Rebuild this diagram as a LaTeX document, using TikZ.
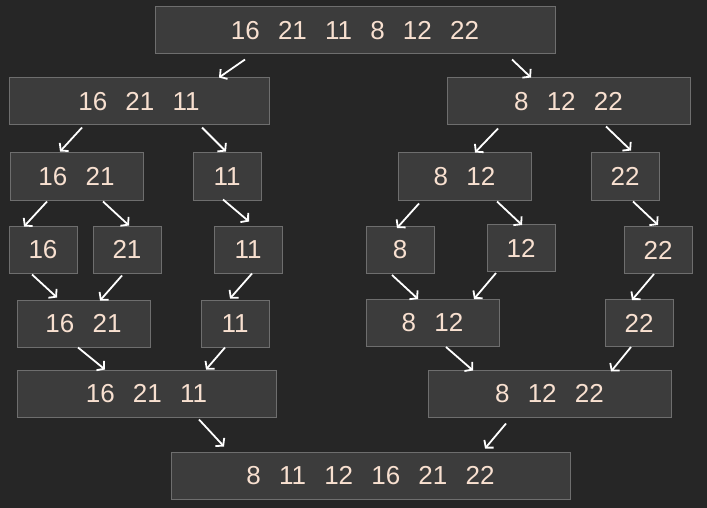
\documentclass[tikz,border=0pt]{standalone}
\usepackage{fontspec}
\setmainfont{Liberation Sans}
\usepackage{tikz}
\usetikzlibrary{arrows.meta}

\definecolor{bgcol}{RGB}{38,38,38}
\definecolor{boxfill}{RGB}{60,60,60}
\definecolor{boxline}{RGB}{110,110,110}
\definecolor{numtext}{RGB}{248,224,208}
\newcommand{\numfont}{\fontsize{26}{30}\selectfont}
\newcommand{\gp}{\hspace{0.7em}}

\begin{document}
\begin{tikzpicture}[->,>={Straight Barb[length=5pt,width=12pt]},x=1pt,y=-1pt]
\tikzstyle{numbox} = [rectangle, draw=boxline, line width=1pt, fill=boxfill, text=numtext, font=\numfont, minimum height=47pt, inner sep=0pt]
\tikzstyle{every edge} = [draw=white, line width=1.8pt]
\useasboundingbox (0,0) rectangle (707,508);
\fill[bgcol,-] (0,0) rectangle (707,508);
% split
\node[numbox, minimum width=400pt] (all) at (355,30.5) {16\gp 21\gp 11\gp 8\gp 12\gp 22};
\node[numbox, minimum width=260pt] (left) at (139,101.5) {16\gp 21\gp 11};
\node[numbox, minimum width=243pt] (right) at (568.5,101.5) {8\gp 12\gp 22};
\node[numbox, minimum width=133pt] (leftA) at (76.5,176.5) {16\gp 21};
\node[numbox, minimum width=68pt] (leftB) at (227,176.5) {11};
\node[numbox, minimum width=133pt] (rightA) at (464.5,176.5) {8\gp 12};
\node[numbox, minimum width=68pt] (rightB) at (625,176.5) {22};
\node[numbox, minimum width=68pt] (p16) at (43,249.5) {16};
\node[numbox, minimum width=68pt] (p21) at (127,249.5) {21};
\node[numbox, minimum width=68pt] (p11) at (248,249.5) {11};
\node[numbox, minimum width=68pt] (p8) at (400,250) {8};
\node[numbox, minimum width=68pt] (p12) at (521,248) {12};
\node[numbox, minimum width=68pt] (p22) at (658,250) {22};
% merge
\node[numbox, minimum width=133pt] (m1621) at (83.5,323.5) {16\gp 21};
\node[numbox, minimum width=68pt] (m11) at (235,323.5) {11};
\node[numbox, minimum width=133pt] (m812) at (432.5,323) {8\gp 12};
\node[numbox, minimum width=68pt] (m22) at (639,323) {22};
\node[numbox, minimum width=259pt] (mleft) at (146.5,393.5) {16\gp 21\gp 11};
\node[numbox, minimum width=243pt] (mright) at (549.5,393.5) {8\gp 12\gp 22};
\node[numbox, minimum width=399pt] (sorted) at (370.5,475.5) {8\gp 11\gp 12\gp 16\gp 21\gp 22};
\path
  ([shift={(-110,5)}]all.south) edge ([shift={(80,0)}]left.north)
  ([shift={(157,5)}]all.south) edge ([shift={(-37.5,0)}]right.north)
  ([shift={(-57,2)}]left.south) edge ([shift={(-16.5,-1)}]leftA.north)
  ([shift={(63,2)}]left.south) edge ([shift={(-1,-1)}]leftB.north)
  ([shift={(-70.5,3)}]right.south) edge ([shift={(10.5,0)}]rightA.north)
  ([shift={(37.5,1)}]right.south) edge ([shift={(6,-2)}]rightB.north)
  ([shift={(-29.5,1)}]leftA.south) edge ([shift={(-19,1)}]p16.north)
  ([shift={(26.5,1)}]leftA.south) edge ([shift={(2,0)}]p21.north)
  ([shift={(-4,-1)}]leftB.south) edge ([shift={(1,-4)}]p11.north)
  ([shift={(-45.5,3)}]rightA.south) edge ([shift={(-3,2)}]p8.north)
  ([shift={(32.5,1)}]rightA.south) edge ([shift={(1,1)}]p12.north)
  ([shift={(8,1)}]rightB.south) edge ([shift={(0,-1)}]p22.north)
  ([shift={(-11,1)}]p16.south) edge ([shift={(-26.5,-2)}]m1621.north)
  ([shift={(-5,2)}]p21.south) edge ([shift={(16.5,1)}]m1621.north)
  ([shift={(4,0)}]p11.south) edge ([shift={(-5,-1)}]m11.north)
  ([shift={(-8,1)}]p8.south) edge ([shift={(-14.5,0)}]m812.north)
  ([shift={(-25,1)}]p12.south) edge ([shift={(41.5,0)}]m812.north)
  ([shift={(-4,0)}]p22.south) edge ([shift={(-7,1)}]m22.north)
  ([shift={(-5.5,0)}]m1621.south) edge ([shift={(-41.5,0)}]mleft.north)
  ([shift={(-10,0)}]m11.south) edge ([shift={(59.5,0)}]mleft.north)
  ([shift={(13.5,0)}]m812.south) edge ([shift={(-76.5,1)}]mright.north)
  ([shift={(-8,0)}]m22.south) edge ([shift={(61.5,2)}]mright.north)
  ([shift={(52.5,2)}]mleft.south) edge ([shift={(-146.5,-5)}]sorted.north)
  ([shift={(-43.5,6)}]mright.south) edge ([shift={(114.5,-3)}]sorted.north);
\end{tikzpicture}
\end{document}
